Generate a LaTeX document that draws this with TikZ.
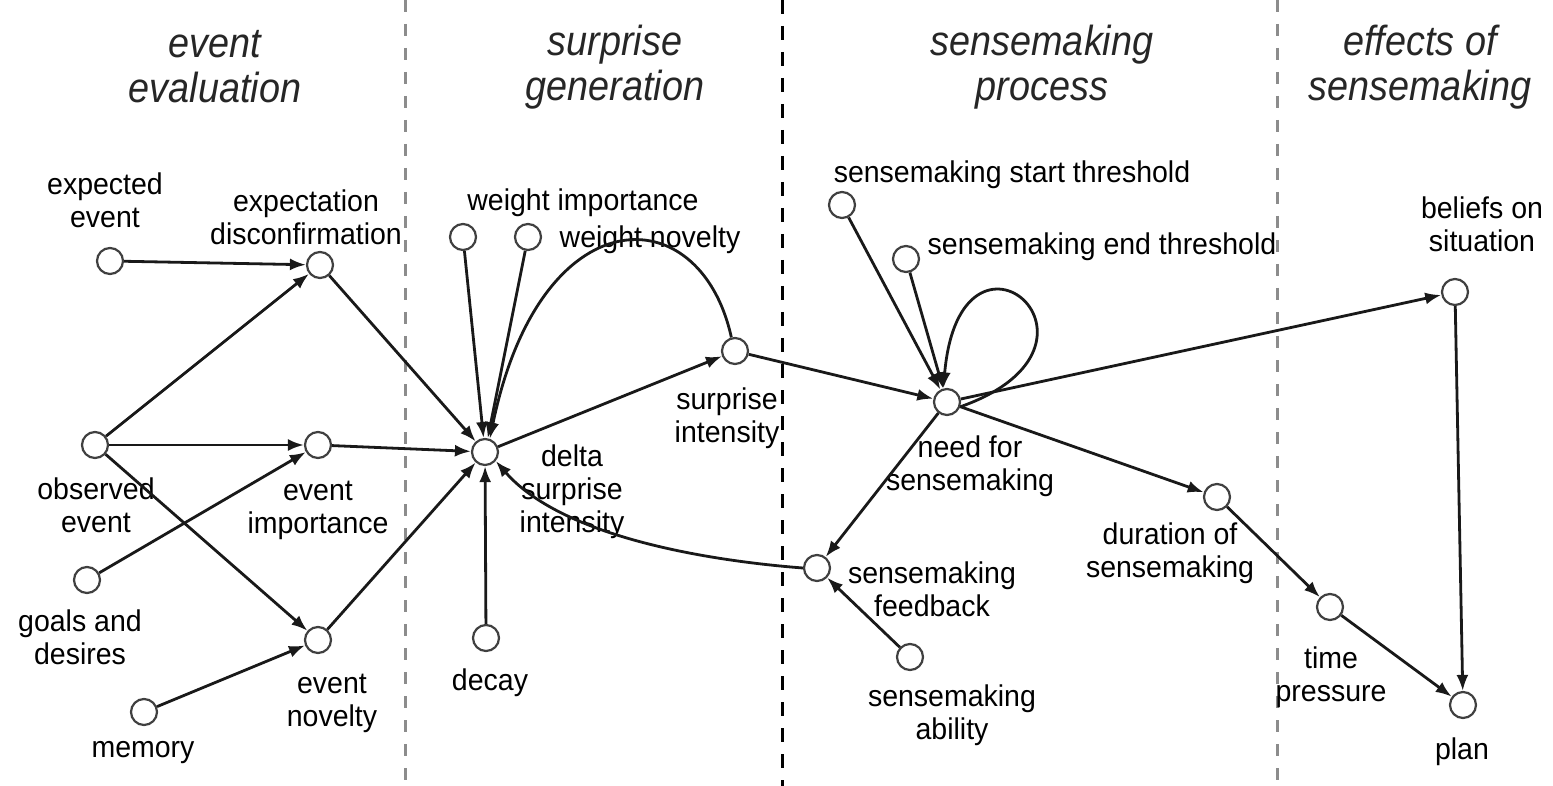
\documentclass[tikz,border=0pt]{standalone}
\usepackage{fontspec}
\setmainfont{Liberation Sans}[FakeStretch=0.95]
\newfontfamily\hdfont{Liberation Sans}[FakeStretch=0.9]
\usetikzlibrary{arrows.meta}
\tikzset{
 var/.style={circle,draw=black!75,line width=2.2pt,minimum size=26pt,inner sep=0pt,fill=white},
 lbl/.style={font=\fontsize{30}{33}\selectfont,align=center,inner sep=0pt},
 hd/.style={font=\hdfont\itshape\fontsize{42}{45}\selectfont,align=center,inner sep=0pt,text=black!85},
 arr/.style={line width=2.8pt,draw=black!90,-{Latex[length=16pt,width=12pt]}},
 sepgray/.style={draw=black!45,line width=3pt,dash pattern=on 12pt off 12pt},
 sepblack/.style={draw=black,line width=3pt,dash pattern=on 14pt off 12pt},
}
\begin{document}
\begin{tikzpicture}[x=1pt,y=-1pt]
\useasboundingbox (0,0) rectangle (1553,786);
% dividers
\coordinate (d1t) at (405,0); \coordinate (d1b) at (405,786);
\coordinate (d2t) at (782,0); \coordinate (d2b) at (782,786);
\coordinate (d3t) at (1277,0); \coordinate (d3b) at (1277,786);
\draw[sepgray] (d1t) -- (d1b);
\draw[sepblack] (d2t) -- (d2b);
\draw[sepgray] (d3t) -- (d3b);
% headers
\node[hd] (h1) at (215,67) {event\\evaluation};
\node[hd] (h2) at (615,67) {surprise\\generation};
\node[hd] (h3) at (1042,67) {sensemaking\\process};
\node[hd] (h4) at (1420,67) {effects of\\sensemaking};
% variables
\node[var] (expev) at (110,261) {};
\node[var] (expdis) at (320,265) {};
\node[var] (obsev) at (95,445) {};
\node[var] (evimp) at (318,445) {};
\node[var] (goals) at (87,580) {};
\node[var] (evnov) at (318,640) {};
\node[var] (mem) at (144,712) {};
\node[var] (wimp) at (463,237) {};
\node[var] (wnov) at (528,237) {};
\node[var] (delta) at (485,452) {};
\node[var] (decay) at (486,638) {};
\node[var] (surp) at (735,351) {};
\node[var] (sst) at (842,205) {};
\node[var] (set) at (906,259) {};
\node[var] (need) at (947,402) {};
\node[var] (bel) at (1455,292) {};
\node[var] (dur) at (1217,497) {};
\node[var] (feed) at (817,568) {};
\node[var] (abil) at (910,657) {};
\node[var] (time) at (1330,607) {};
\node[var] (plan) at (1463,705) {};
% labels
\node[lbl] (l-expev) at (105,200) {expected\\event};
\node[lbl] (l-expdis) at (306,217) {expectation\\disconfirmation};
\node[lbl] (l-obsev) at (96,505) {observed\\event};
\node[lbl] (l-evimp) at (318,510) {event\\importance};
\node[lbl] (l-goals) at (80,637) {goals and\\desires};
\node[lbl] (l-evnov) at (332,703) {event\\novelty};
\node[lbl] (l-mem) at (143,753) {memory};
\node[lbl] (l-wimp) at (583,203) {weight importance};
\node[lbl] (l-wnov) at (650,240) {weight novelty};
\node[lbl] (l-delta) at (572,492) {delta\\surprise\\intensity};
\node[lbl] (l-decay) at (490,683) {decay};
\node[lbl] (l-surp) at (727,418) {surprise\\intensity};
\node[lbl] (l-sst) at (1012,175) {sensemaking start threshold};
\node[lbl] (l-set) at (1102,247) {sensemaking end threshold};
\node[lbl] (l-need) at (970,466) {need for\\sensemaking};
\node[lbl] (l-bel) at (1482,224) {beliefs on\\situation};
\node[lbl] (l-dur) at (1170,553) {duration of\\sensemaking};
\node[lbl] (l-feed) at (932,589) {sensemaking\\feedback};
\node[lbl] (l-abil) at (952,715) {sensemaking\\ability};
\node[lbl] (l-time) at (1331,677) {time\\pressure};
\node[lbl] (l-plan) at (1462,752) {plan};
% connectors
\draw[arr] (expev) -- (expdis);
\draw[arr] (obsev) -- (expdis);
\draw[arr] (obsev) -- (evimp);
\draw[arr] (obsev) -- (evnov);
\draw[arr] (goals) -- (evimp);
\draw[arr] (mem) -- (evnov);
\draw[arr] (expdis) -- (delta);
\draw[arr] (evimp) -- (delta);
\draw[arr] (evnov) -- (delta);
\draw[arr] (wimp) -- (delta);
\draw[arr] (wnov) -- (delta);
\draw[arr] (decay) -- (delta);
\draw[arr] (surp.105) .. controls (700,195) and (540,195) .. (delta.70);
\draw[arr] (delta) -- (surp);
\draw[arr] (feed.west) .. controls (700,560) and (560,535) .. (delta.-40);
\draw[arr] (surp) -- (need);
\draw[arr] (sst) -- (need);
\draw[arr] (set) -- (need);
\draw[arr] (need.-20) .. controls (1135,345) and (960,195) .. (need.105);
\draw[arr] (need) -- (bel);
\draw[arr] (need) -- (dur);
\draw[arr] (need) -- (feed);
\draw[arr] (abil) -- (feed);
\draw[arr] (dur) -- (time);
\draw[arr] (time) -- (plan);
\draw[arr] (bel) -- (plan);
\end{tikzpicture}
\end{document}
